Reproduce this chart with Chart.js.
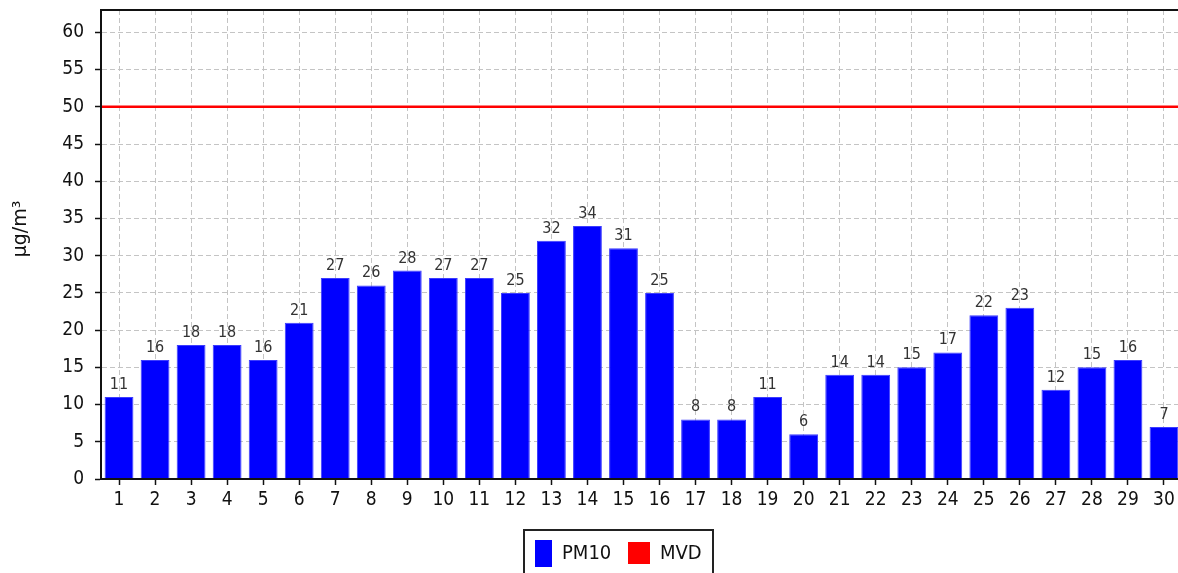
<!DOCTYPE html>
<html>
<head>
<meta charset="utf-8">
<script src="https://cdn.jsdelivr.net/npm/chart.js@4/dist/chart.umd.min.js"></script>
<style>
  html, body { margin: 0; padding: 0; background: #fff; overflow: hidden; }
  #wrap { position: relative; width: 1186px; height: 585px; }
</style>
</head>
<body>
<div id="wrap"><canvas id="c"></canvas></div>
<script>
// Daily PM10 concentrations for the month (µg/m³)
const days = ['1','2','3','4','5','6','7','8','9','10','11','12','13','14','15','16','17','18','19','20','21','22','23','24','25','26','27','28','29','30'];
const pm10 = [11, 16, 18, 18, 16, 21, 27, 26, 28, 27, 27, 25, 32, 34, 31, 25, 8, 8, 11, 6, 14, 14, 15, 17, 22, 23, 12, 15, 16, 7];
// Daily limit value (MVD)
const mvd = days.map(() => 50);
const unitLabel = 'µg/m³';

const FONT = '"DejaVu Sans Condensed", "DejaVu Sans", sans-serif';

// Limit line across the full plot width, value labels over bars, frame, axis title and boxed legend
const decorations = {
  id: 'decorations',
  afterDatasetsDraw(chart) {
    const { ctx, chartArea: a, scales: { y } } = chart;
    const meta = chart.getDatasetMeta(0);
    ctx.save();
    // value labels
    ctx.font = '16px ' + FONT;
    ctx.fillStyle = '#333';
    ctx.textAlign = 'center';
    ctx.textBaseline = 'alphabetic';
    meta.data.forEach((bar, i) => {
      ctx.fillText(String(pm10[i]), bar.x, bar.y - 8);
    });
    // limit line
    const ly = y.getPixelForValue(mvd[0]);
    ctx.strokeStyle = '#ff0000';
    ctx.lineWidth = 2.5;
    ctx.beginPath();
    ctx.moveTo(a.left, ly);
    ctx.lineTo(a.right, ly);
    ctx.stroke();
    // frame
    ctx.strokeStyle = '#111';
    ctx.lineWidth = 2;
    ctx.strokeRect(a.left, a.top, a.right - a.left, a.bottom - a.top);
    ctx.restore();
  },
  afterDraw(chart) {
    const { ctx } = chart;
    const ds = chart.data.datasets;
    ctx.save();
    // rotated axis title
    ctx.translate(21, 229);
    ctx.rotate(-Math.PI / 2);
    ctx.font = '19px "DejaVu Sans", sans-serif';
    ctx.fillStyle = '#111';
    ctx.textAlign = 'center';
    ctx.textBaseline = 'middle';
    ctx.fillText(unitLabel, 0, 0);
    ctx.restore();

    // legend
    ctx.save();
    ctx.font = '20px ' + FONT;
    ctx.textBaseline = 'middle';
    ctx.textAlign = 'left';
    const left = 524, top = 530, w = 189, h = 48;
    const cy = 554;
    ctx.fillStyle = ds[0].backgroundColor;
    ctx.fillRect(left + 11, 540, 17, 27);
    ctx.fillStyle = '#111';
    ctx.fillText(ds[0].label, left + 38, cy);
    ctx.fillStyle = ds[1].borderColor;
    ctx.fillRect(left + 104, 542, 22, 22);
    ctx.fillStyle = '#111';
    ctx.fillText(ds[1].label, left + 136, cy);
    ctx.strokeStyle = '#222';
    ctx.lineWidth = 2;
    ctx.strokeRect(left, top, w, h);
    ctx.restore();
  }
};

new Chart(document.getElementById('c'), {
  type: 'bar',
  data: {
    labels: days,
    datasets: [
      {
        label: 'PM10',
        data: pm10,
        backgroundColor: '#0000ff',
        borderColor: '#3c3cff',
        borderWidth: 1,
        categoryPercentage: 0.8,
        barPercentage: 1.0,
        order: 2
      },
      {
        type: 'line',
        label: 'MVD',
        data: mvd,
        borderColor: '#ff0000',
        backgroundColor: '#ff0000',
        showLine: false,
        pointRadius: 0,
        order: 1
      }
    ]
  },
  plugins: [decorations],
  options: {
    responsive: true,
    maintainAspectRatio: false,
    animation: false,
    layout: { padding: { top: 10, right: 4, bottom: 66, left: 0 } },
    plugins: {
      legend: { display: false },
      tooltip: { enabled: false }
    },
    scales: {
      x: {
        offset: true,
        grid: {
          offset: false,
          color: '#c4c4c4',
          lineWidth: 1,
          tickColor: '#111',
          tickLength: 6,
          tickWidth: 1.5
        },
        border: { display: true, color: '#111', width: 2, dash: [5, 3] },
        ticks: {
          color: '#111',
          font: { family: FONT, size: 19 },
          padding: 4,
          maxRotation: 0,
          autoSkip: false
        },
        afterFit(s) { s.height = 40; }
      },
      y: {
        min: 0,
        max: 63,
        grid: {
          color: '#c4c4c4',
          lineWidth: 1,
          tickColor: '#111',
          tickLength: 6,
          tickWidth: 1.5
        },
        border: { display: true, color: '#111', width: 2, dash: [5, 3] },
        ticks: {
          stepSize: 5,
          includeBounds: false,
          color: '#111',
          font: { family: FONT, size: 19 },
          padding: 11
        },
        afterFit(s) { s.width = 101; s.paddingTop = 0; s.paddingBottom = 0; }
      }
    }
  }
});
</script>
</body>
</html>
